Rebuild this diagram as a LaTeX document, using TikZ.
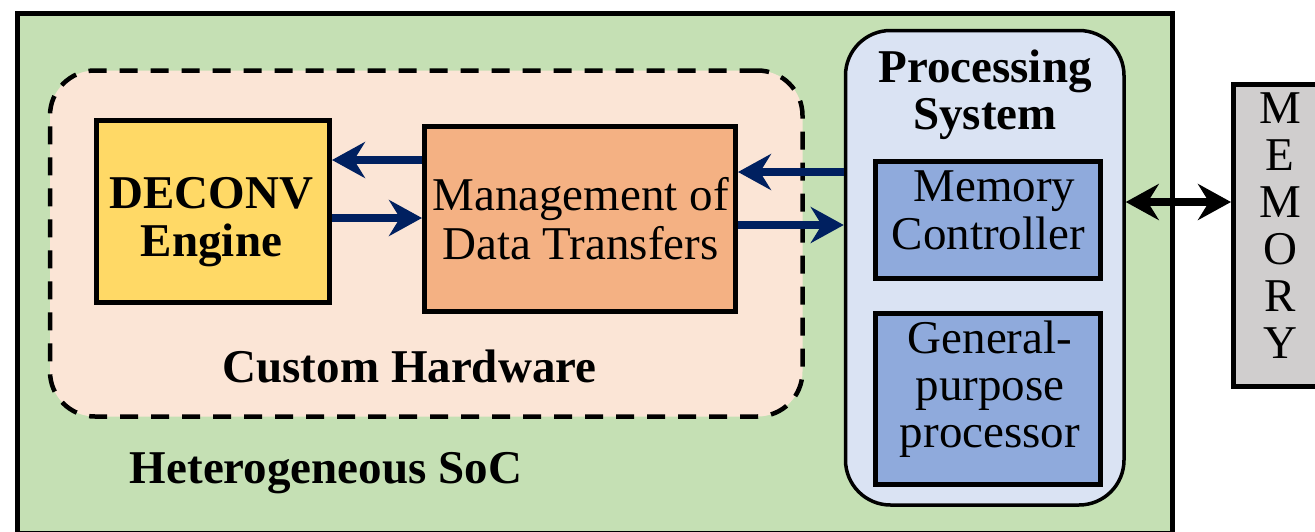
\documentclass[tikz,border=0pt]{standalone}
\usepackage{fontspec}
\setmainfont{Liberation Serif}
\newfontfamily\tnr{Liberation Serif}
\usetikzlibrary{arrows.meta}
\definecolor{socgreen}{HTML}{C5E0B4}
\definecolor{chpink}{HTML}{FBE5D6}
\definecolor{decyellow}{HTML}{FFD966}
\definecolor{mgmtorange}{HTML}{F4B183}
\definecolor{pslight}{HTML}{DAE3F3}
\definecolor{psblue}{HTML}{8FAADC}
\definecolor{memgray}{HTML}{D0CECE}
\definecolor{navy}{HTML}{002060}
\newcommand{\sr}{\rule[-15pt]{0pt}{47pt}}
\begin{document}
\begin{tikzpicture}[x=1pt,y=-1pt,
  txt/.style={font=\tnr\fontsize{47}{47}\selectfont, align=center, inner sep=0pt},
  btxt/.style={font=\tnr\fontsize{47}{47}\selectfont\bfseries, align=center, inner sep=0pt},
  blockbox/.style={draw=black, line width=5pt, inner sep=0pt},
  navyarrow/.style={draw=navy, line width=8pt, -{Stealth[length=33pt,width=36pt,inset=11pt]}},
  duplex/.style={draw=black, line width=7.5pt, {Stealth[length=33pt,width=36pt,inset=11pt]}-{Stealth[length=33pt,width=36pt,inset=11pt]}}
]
\clip (0,0) rectangle (1315,531);
\fill[white] (0,0) rectangle (1315,531);
% outer SoC
\node[draw=black, fill=socgreen, line width=5pt, minimum width=1155pt, minimum height=519.5pt, inner sep=0pt] (soc) at (595,273.25) {};
% custom hardware
\node[draw=black, fill=chpink, line width=4.5pt, dash pattern=on 18pt off 13pt, rounded corners=45pt,
      minimum width=752.5pt, minimum height=346pt, inner sep=0pt] (custom) at (426.25,243.5) {};
% DECONV
\node[blockbox, fill=decyellow, minimum width=233pt, minimum height=182pt] (deconv) at (213,211.5) {};
\node[btxt] (deconvtxt) at (211.5,224) {\sr DECONV\\\sr Engine};
% management
\node[blockbox, fill=mgmtorange, minimum width=311pt, minimum height=185pt] (mgmt) at (580,219) {};
\node[txt] (mgmttxt) at (580.5,226) {\sr Management of\\\sr Data Transfers};
% processing system
\node[draw=black, fill=pslight, line width=3.5pt, rounded corners=45pt, minimum width=278.5pt, minimum height=474.5pt, inner sep=0pt] (ps) at (984.75,267.75) {};
\node[btxt] (pstitle) at (985,97) {\sr Processing\\\sr System};
\node[blockbox, fill=psblue, minimum width=225pt, minimum height=117pt] (mc) at (988,220) {};
\node[txt] (mctxt) at (988.5,217) {\sr\ Memory\\\sr Controller};
\node[blockbox, fill=psblue, minimum width=225pt, minimum height=171pt] (gpp) at (988,399) {};
\node[txt] (gpptxt) at (990,391.5) {\sr General-\\\sr purpose\\\sr processor};
% labels
\node[btxt] (chlabel) at (409.5,373.5) {\sr Custom Hardware};
\node[btxt] (soclabel) at (326,474.5) {\sr Heterogeneous SoC};
% memory
\node[draw=black, fill=memgray, line width=5pt, minimum width=93pt, minimum height=302pt, inner sep=0pt] (mem) at (1280,235.5) {};
\node[txt] (memtxt) at (1280,232) {\sr M\\\sr E\\\sr M\\\sr O\\\sr R\\\sr Y};
% arrows
\draw[navyarrow] (mgmt.west |- 0,160) -- (deconv.east |- 0,160);
\draw[navyarrow] (deconv.east |- 0,218) -- (mgmt.west |- 0,218);
\draw[navyarrow] (ps.west |- 0,172) -- (mgmt.east |- 0,172);
\draw[navyarrow] (mgmt.east |- 0,225) -- (ps.west |- 0,225);
\draw[duplex] (ps.east |- 0,202) -- (mem.west |- 0,202);
\end{tikzpicture}
\end{document}
